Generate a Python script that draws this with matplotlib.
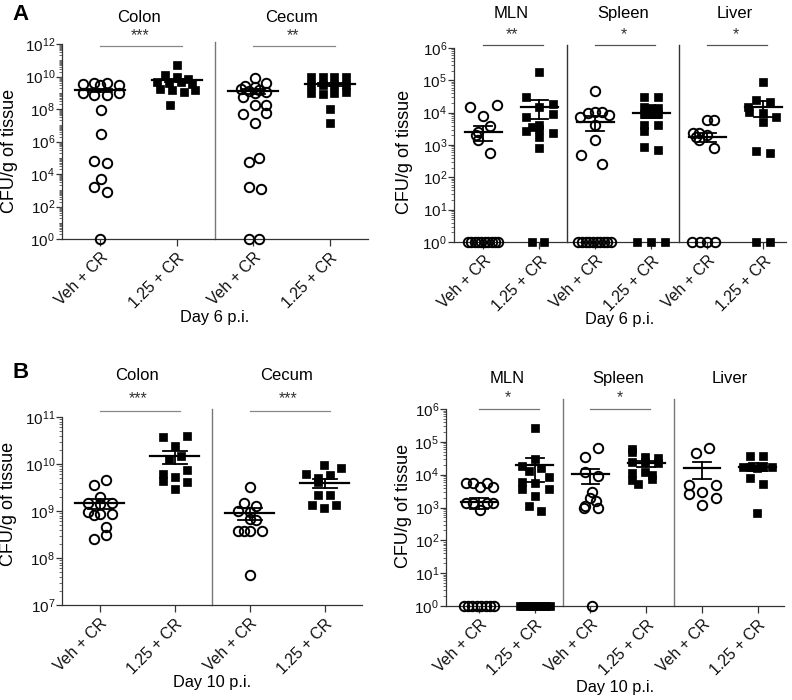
import matplotlib
matplotlib.use("Agg")
import matplotlib.pyplot as plt
import matplotlib.ticker as mticker
import matplotlib.transforms as mtrans
import numpy as np

plt.rcParams['font.family'] = ['Liberation Sans', 'DejaVu Sans']

# ---- data: log10 CFU/g (0 = no growth, plotted on the 10^0 line) ----
# dx = horizontal scatter offset of each point
group_labels = ['Veh + CR', '1.25 + CR']

# Panel A, day 6, gut
a_colon_veh = [9.55, 9.62, 9.5, 9.62, 9.5, 8.98, 8.88, 8.88, 8.98, 7.94, 6.44, 4.82, 4.70, 3.69, 3.22, 2.89, 0]
a_colon_veh_dx = [-0.22, -0.08, 0.0, 0.09, 0.25, -0.22, -0.08, 0.09, 0.25, 0.01, 0.01, -0.08, 0.09, 0.01, -0.08, 0.09, 0.0]
a_colon_cr = [10.7, 10.1, 10.0, 9.85, 9.65, 9.6, 9.65, 9.55, 9.25, 9.2, 9.05, 9.2, 8.25]
a_colon_cr_dx = [0.0, -0.15, 0.0, 0.15, -0.26, -0.1, 0.06, 0.2, -0.22, -0.06, 0.1, 0.24, -0.09]
a_cecum_veh = [9.89, 9.58, 9.42, 9.38, 9.25, 9.2, 9.1, 9.07, 8.96, 8.76, 8.25, 8.25, 7.72, 7.73, 7.12, 5.0, 4.72, 3.18, 3.10, 0, 0]
a_cecum_veh_dx = [0.02, 0.17, -0.11, 0.02, -0.16, 0.08, -0.05, 0.17, 0.02, -0.13, 0.02, 0.17, -0.14, 0.17, 0.02, 0.08, -0.06, -0.06, 0.1, -0.06, 0.08]
a_cecum_cr = [9.95, 9.95, 9.95, 9.95, 9.5, 9.45, 9.5, 9.5, 9.0, 8.95, 9.0, 9.05, 8.0, 7.12]
a_cecum_cr_dx = [-0.24, -0.09, 0.06, 0.21, -0.24, -0.09, 0.06, 0.21, -0.24, -0.09, 0.06, 0.21, 0.0, 0.0]
a_gut_mean = [1.4e9, 6.0e9, 1.2e9, 3.3e9]
a_gut_sem = [0.35e9, 1.5e9, 0.4e9, 0.7e9]

# Panel A, day 6, organs
a_mln_veh = [4.19, 4.24, 3.9, 3.59, 3.4, 3.31, 3.15, 2.74, 0, 0, 0, 0, 0, 0, 0, 0, 0, 0]
a_mln_veh_dx = [-0.23, 0.24, 0.0, 0.12, -0.1, -0.13, -0.1, 0.12, -0.27, -0.21, -0.15, -0.09, -0.03, 0.03, 0.09, 0.15, 0.21, 0.27]
a_mln_cr = [5.27, 4.47, 4.27, 4.19, 3.88, 3.96, 3.62, 3.55, 3.44, 3.49, 3.38, 3.26, 2.9, 0, 0]
a_mln_cr_dx = [0.0, -0.24, 0.24, 0.0, -0.24, 0.24, 0.0, -0.12, -0.24, 0.0, 0.24, 0.0, 0.0, -0.12, 0.09]
a_spleen_veh = [4.68, 3.86, 3.98, 4.03, 4.03, 3.94, 3.62, 3.15, 2.69, 2.4, 0, 0, 0, 0, 0, 0, 0, 0, 0, 0]
a_spleen_veh_dx = [0.0, -0.27, -0.13, 0.0, 0.12, 0.24, 0.0, 0.0, -0.25, 0.12, -0.3, -0.23, -0.17, -0.1, -0.04, 0.03, 0.09, 0.16, 0.22, 0.29]
a_spleen_cr = [4.49, 4.49, 4.19, 4.15, 4.15, 3.96, 3.96, 3.96, 3.62, 3.62, 3.44, 2.95, 2.85, 0, 0, 0]
a_spleen_cr_dx = [-0.125, 0.12, -0.125, 0.0, 0.12, -0.125, 0.0, 0.12, -0.125, 0.12, -0.125, -0.125, 0.12, -0.26, 0.0, 0.24]
a_liver_veh = [3.77, 3.77, 3.36, 3.38, 3.31, 3.15, 2.9, 3.25, 0, 0, 0, 0]
a_liver_veh_dx = [0.0, 0.13, -0.26, -0.14, 0.0, -0.14, 0.13, -0.2, -0.27, -0.12, 0.0, 0.15]
a_liver_cr = [4.96, 4.39, 4.34, 4.19, 4.03, 4.0, 3.86, 3.72, 2.82, 2.74, 0, 0]
a_liver_cr_dx = [0.0, -0.12, 0.12, -0.27, -0.25, 0.0, 0.24, 0.0, -0.12, 0.12, -0.12, 0.12]
a_org_mean = [2600, 15500, 5300, 10000, 1800, 15500]
a_org_sem = [1300, 9000, 2500, 3000, 550, 8000]

# Panel B, day 10, gut
b_colon_veh = [9.66, 9.55, 9.29, 9.16, 9.14, 9.16, 8.97, 8.91, 8.93, 8.94, 8.67, 8.5, 8.4]
b_colon_veh_dx = [0.09, -0.07, 0.01, -0.15, 0.0, 0.16, -0.15, -0.07, 0.01, 0.17, 0.09, 0.09, -0.07]
b_colon_cr = [10.58, 10.6, 10.39, 10.11, 10.16, 9.78, 9.73, 9.87, 9.64, 9.61, 9.46]
b_colon_cr_dx = [-0.16, 0.16, 0.01, -0.08, 0.08, -0.16, 0.01, 0.16, -0.16, 0.16, 0.01]
b_cecum_veh = [9.52, 9.18, 9.11, 8.99, 8.97, 8.83, 8.8, 8.58, 8.58, 8.58, 8.58, 7.64]
b_cecum_veh_dx = [0.0, -0.08, 0.08, -0.16, 0.0, 0.0, 0.09, -0.16, -0.08, 0.0, 0.16, 0.0]
b_cecum_cr = [9.98, 9.91, 9.78, 9.77, 9.7, 9.62, 9.34, 9.33, 9.13, 9.06, 9.13]
b_cecum_cr_dx = [-0.01, 0.22, -0.25, 0.07, -0.09, -0.09, 0.07, -0.09, -0.17, -0.01, 0.15]
b_gut_mean = [1.45e9, 1.45e10, 8.9e8, 4.0e9]
b_gut_sem = [0.35e9, 0.45e10, 2.5e8, 0.9e9]

# Panel B, day 10, organs
b_mln_veh = [3.74, 3.74, 3.63, 3.74, 3.63, 3.13, 3.13, 2.92, 3.13, 3.13, 0, 0, 0, 0, 0, 0, 0, 0]
b_mln_veh_dx = [-0.23, -0.1, 0.02, 0.14, 0.26, -0.23, -0.1, 0.02, 0.14, 0.26, -0.27, -0.19, -0.12, -0.04, 0.04, 0.12, 0.19, 0.27]
b_mln_cr = [5.41, 4.47, 4.26, 4.19, 4.11, 3.92, 3.79, 3.74, 3.55, 3.55, 3.36, 3.05, 2.89, 0, 0, 0, 0, 0, 0, 0, 0, 0, 0]
b_mln_cr_dx = [0.01, 0.01, -0.23, 0.12, -0.11, 0.25, -0.23, 0.01, -0.23, 0.25, 0.01, -0.11, 0.12,
               -0.27, -0.21, -0.15, -0.09, -0.03, 0.03, 0.09, 0.15, 0.21, 0.27]
b_spleen_veh = [4.8, 4.55, 4.09, 3.97, 3.47, 3.3, 3.2, 3.0, 3.0, 3.05, 0]
b_spleen_veh_dx = [0.14, -0.1, -0.1, 0.13, 0.02, 0.0, 0.1, -0.12, 0.13, -0.1, 0.02]
b_spleen_cr = [4.78, 4.7, 4.55, 4.5, 4.4, 4.4, 4.35, 4.04, 4.09, 3.98, 3.84, 3.87, 3.71]
b_spleen_cr_dx = [-0.26, -0.26, -0.03, 0.21, -0.26, -0.03, 0.21, -0.26, -0.03, 0.1, -0.26, 0.1, -0.15]
b_liver_veh = [4.82, 4.65, 3.69, 3.69, 3.4, 3.48, 3.28, 3.08]
b_liver_veh_dx = [0.13, -0.11, -0.24, 0.25, -0.24, 0.0, 0.25, 0.0]
b_liver_cr = [4.57, 4.57, 4.24, 4.24, 4.2, 4.24, 4.24, 3.89, 3.71, 2.82]
b_liver_cr_dx = [-0.14, 0.1, -0.26, -0.14, -0.02, 0.1, 0.25, -0.14, 0.1, -0.02]
b_org_mean = [1450, 19500, 10300, 22000, 15500, 17500]
b_org_sem = [550, 13500, 5000, 5000, 8000, 4500]

gut_tissues = ['Colon', 'Cecum']
org_tissues = ['MLN', 'Spleen', 'Liver']
a_gut_stars = ['***', '**']
a_org_stars = ['**', '*', '*']
b_gut_stars = ['***', '***']
b_org_stars = ['*', '*', '']


def sci(v, pos):
    return r'$\mathregular{10^{%d}}$' % round(np.log10(v))


def draw_group(ax, x, logs, dx, mean, sem, filled):
    xs = x + np.array(dx)
    ys = 10.0 ** np.array(logs)
    if filled:
        ax.plot(xs, ys, 's', ms=6.3, mfc='black', mec='black', mew=0.5, ls='none', clip_on=False, zorder=3)
    else:
        ax.plot(xs, ys, 'o', ms=6.8, mfc='none', mec='black', mew=1.4, ls='none', clip_on=False, zorder=3)
    ax.plot([x - 0.33, x + 0.33], [mean, mean], color='black', lw=1.6, zorder=4)
    ax.plot([x, x], [mean - sem, mean + sem], color='black', lw=1.3, zorder=4)
    for v in (mean - sem, mean + sem):
        ax.plot([x - 0.16, x + 0.16], [v, v], color='black', lw=1.3, zorder=4)


def panel(rect, groups, means, sems, tissues, stars, ylim, majors, xlim,
          title_y, star_y, line_y, div_top, day, day_y, ylab_x, ylab_y, sig_col, div_col):
    ax = fig.add_axes(rect)
    n = len(groups)
    for i, (logs, dx) in enumerate(groups):
        draw_group(ax, i + 1, logs, dx, means[i], sems[i], i % 2 == 1)
    ax.set_yscale('log')
    ax.set_ylim(*ylim)
    ax.set_xlim(*xlim)
    ax.yaxis.set_major_locator(mticker.FixedLocator(majors))
    ax.yaxis.set_major_formatter(mticker.FuncFormatter(sci))
    ax.yaxis.set_minor_locator(mticker.LogLocator(base=10, subs=np.arange(1, 10), numticks=200))
    ax.yaxis.set_minor_formatter(mticker.NullFormatter())
    ax.set_xticks(np.arange(1, n + 1))
    ax.set_xticklabels(group_labels * (n // 2), rotation=45, ha='right', rotation_mode='anchor', fontsize=11.3)
    for s in ('top', 'right'):
        ax.spines[s].set_visible(False)
    for s in ('left', 'bottom'):
        ax.spines[s].set_color('#333333')
        ax.spines[s].set_linewidth(0.9)
    ax.tick_params(axis='y', which='major', length=4, width=0.9, labelsize=11, colors='#333333', pad=1)
    ax.tick_params(axis='y', which='minor', length=2.5, width=0.6, colors='#555555')
    ax.tick_params(axis='x', length=5, width=0.9, colors='#333333', pad=3)
    for lbl in ax.get_xticklabels() + ax.get_yticklabels():
        lbl.set_color('#111111')
    tr = mtrans.blended_transform_factory(ax.transData, ax.transAxes)
    for k, name in enumerate(tissues):
        x0 = 2 * k + 1
        ax.text(x0 + 0.5, title_y, name, transform=tr, ha='center', va='center', fontsize=12)
        if stars[k]:
            ax.text(x0 + 0.52, star_y, stars[k], transform=tr, ha='center', va='center', fontsize=11.5, color='#333333')
            ax.plot([x0, x0 + 1.07], [line_y, line_y], transform=tr, color=sig_col, lw=0.9, clip_on=False)
        if k > 0:
            ax.plot([x0 - 0.5, x0 - 0.5], [0, div_top], transform=tr, color=div_col, lw=1.0, clip_on=False)
    ax.text(0.5, day_y, day, transform=ax.transAxes, ha='center', va='center', fontsize=11.8)
    ax.text(ylab_x, ylab_y, 'CFU/g of tissue', transform=ax.transAxes, rotation=90,
            ha='center', va='center', fontsize=13)
    return ax


fig = plt.figure(figsize=(7.92, 7.0), dpi=100)
W, H = 792.0, 700.0


def rect(l, t, r, b):
    return [l / W, 1 - b / H, (r - l) / W, (b - t) / H]


panel(rect(62, 44, 368, 239),
      [(a_colon_veh, a_colon_veh_dx), (a_colon_cr, a_colon_cr_dx),
       (a_cecum_veh, a_cecum_veh_dx), (a_cecum_cr, a_cecum_cr_dx)],
      a_gut_mean, a_gut_sem, gut_tissues, a_gut_stars,
      (1, 1e12), [10.0 ** p for p in range(0, 13, 2)], (0.5, 4.5),
      1.135, 1.045, 0.99, 1.01, 'Day 6 p.i.', -0.405, -0.173, 0.45, '#888888', '#777777')

panel(rect(454, 48, 786, 242),
      [(a_mln_veh, a_mln_veh_dx), (a_mln_cr, a_mln_cr_dx),
       (a_spleen_veh, a_spleen_veh_dx), (a_spleen_cr, a_spleen_cr_dx),
       (a_liver_veh, a_liver_veh_dx), (a_liver_cr, a_liver_cr_dx)],
      a_org_mean, a_org_sem, org_tissues, a_org_stars,
      (1, 1e6), [10.0 ** p for p in range(0, 7)], (0.48, 6.41),
      1.18, 1.067, 1.015, 1.015, 'Day 6 p.i.', -0.40, -0.148, 0.465, '#555555', '#333333')

panel(rect(62, 417, 362, 605),
      [(b_colon_veh, b_colon_veh_dx), (b_colon_cr, b_colon_cr_dx),
       (b_cecum_veh, b_cecum_veh_dx), (b_cecum_cr, b_cecum_cr_dx)],
      b_gut_mean, b_gut_sem, gut_tissues, b_gut_stars,
      (1e7, 1e11), [10.0 ** p for p in range(7, 12)], (0.5, 4.5),
      1.223, 1.10, 1.03, 1.04, 'Day 10 p.i.', -0.41, -0.177, 0.54, '#888888', '#777777')

panel(rect(446, 409, 784, 606),
      [(b_mln_veh, b_mln_veh_dx), (b_mln_cr, b_mln_cr_dx),
       (b_spleen_veh, b_spleen_veh_dx), (b_spleen_cr, b_spleen_cr_dx),
       (b_liver_veh, b_liver_veh_dx), (b_liver_cr, b_liver_cr_dx)],
      b_org_mean, b_org_sem, org_tissues, b_org_stars,
      (1, 1e6), [10.0 ** p for p in range(0, 7)], (0.41, 6.47),
      1.157, 1.06, 1.0, 1.05, 'Day 10 p.i.', -0.416, -0.127, 0.51, '#777777', '#777777')

fig.text(12 / W, 1 - 15 / H, 'A', fontsize=16, fontweight='bold', ha='left', va='center')
fig.text(12 / W, 1 - 372 / H, 'B', fontsize=16, fontweight='bold', ha='left', va='center')

fig.savefig('out.png', dpi=100)
